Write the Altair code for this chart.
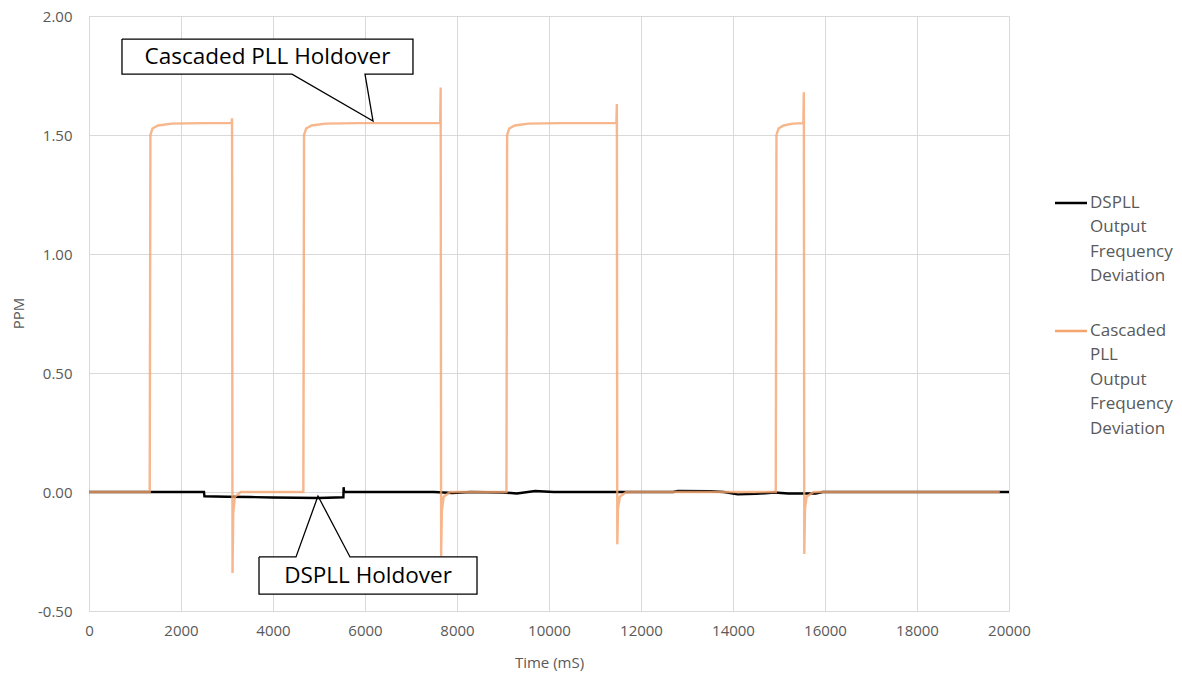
import altair as alt
import pandas as pd

# ---------------- data ----------------
dspll_t = [0, 2500, 2510, 3000, 3500, 4000, 4500, 5000, 5530, 5535, 5545, 6000, 7000, 7500,
           7900, 8300, 9000, 9300, 9700, 10100, 11000, 12000, 12700, 12800, 13500, 13800,
           14100, 14500, 14900, 15200, 15800, 15950, 20000]
dspll_v = [0.0, 0.0, -0.018, -0.02, -0.021, -0.023, -0.024, -0.025, -0.022, 0.02, 0.0, 0.0, 0.0, 0.0,
           -0.004, 0.0, -0.002, -0.006, 0.004, 0.0, 0.0, 0.0, 0.0, 0.004, 0.003, 0.0,
           -0.01, -0.008, -0.002, -0.006, -0.006, 0.0, 0.0]

casc_t = [0, 1320, 1335, 1380, 1500, 1800, 2500, 3100,
          3110, 3120, 3135, 3170, 3300, 4660,
          4675, 4720, 4840, 5140, 5840, 7635,
          7645, 7655, 7670, 7710, 7850, 9075,
          9090, 9135, 9255, 9555, 10255, 11465,
          11475, 11485, 11500, 11540, 11680, 14930,
          14945, 14990, 15100, 15300, 15530,
          15540, 15550, 15565, 15600, 15750, 19800]
casc_v = [0.0, 0.0, 1.50, 1.527, 1.54, 1.548, 1.55, 1.55,
          1.57, -0.34, -0.09, -0.02, 0.0, 0.0,
          1.50, 1.527, 1.54, 1.548, 1.55, 1.55,
          1.70, -0.27, -0.08, -0.02, 0.0, 0.0,
          1.50, 1.527, 1.54, 1.548, 1.55, 1.55,
          1.63, -0.22, -0.07, -0.02, 0.0, 0.0,
          1.50, 1.527, 1.54, 1.548, 1.55,
          1.68, -0.26, -0.07, -0.02, 0.0, 0.0]

x_ticks = list(range(0, 20001, 2000))
y_ticks = [-0.5, 0.0, 0.5, 1.0, 1.5, 2.0]

legend_labels = ["DSPLL\nOutput\nFrequency\nDeviation",
                 "Cascaded\nPLL\nOutput\nFrequency\nDeviation"]

# callouts (data coordinates)
callout_texts = ["Cascaded PLL Holdover", "DSPLL Holdover"]
callout_box_x = [[717, 7043], [3696, 8435]]
callout_box_y = [[1.756, 1.903], [-0.429, -0.273]]
callout1_t = [717, 7043, 7043, 6000, 6174, 4413, 717, 717]
callout1_v = [1.903, 1.903, 1.756, 1.756, 1.559, 1.756, 1.756, 1.903]
callout2_t = [3696, 4500, 4978, 5674, 8435, 8435, 3696, 3696]
callout2_v = [-0.273, -0.273, -0.017, -0.273, -0.273, -0.429, -0.429, -0.273]

BLACK = "#000000"
ORANGE = "#F5A46E"
FONT = "Open Sans"

# ---------------- frames ----------------
dspll_df = pd.DataFrame({"t": dspll_t, "v": dspll_v})
casc_df = pd.DataFrame({"t": casc_t, "v": casc_v})

xs = alt.Scale(domain=[0, 20000], nice=False, zero=False)
ys = alt.Scale(domain=[-0.5, 2.0], nice=False, zero=False)

x_axis = alt.Axis(values=x_ticks, title="Time (mS)", format="d", labelPadding=12,
                  titleY=51, titleBaseline="middle", labelFlush=False)
y_axis = alt.Axis(values=y_ticks, title="PPM", labelPadding=17,
                  labelExpr="replace(format(datum.value, '.2f'), '\u2212', '-')",
                  titleX=-71, titleY=297, titleBaseline="middle", titleAngle=-90)


def X(f):
    return alt.X(f, scale=xs, axis=x_axis, title="Time (mS)")


def Y(f):
    return alt.Y(f, scale=ys, axis=y_axis, title="PPM")


black_line = alt.Chart(dspll_df).mark_line(color=BLACK, strokeWidth=2.4).encode(
    x=X("t:Q"), y=Y("v:Q"), order="t:Q",
)

orange_line = alt.Chart(casc_df).mark_line(color=ORANGE, strokeWidth=2.4, opacity=0.8).encode(
    x=X("t:Q"), y=Y("v:Q"), order="t:Q",
)

# callout boxes
box_df = pd.DataFrame({
    "x1": [b[0] for b in callout_box_x], "x2": [b[1] for b in callout_box_x],
    "y1": [b[0] for b in callout_box_y], "y2": [b[1] for b in callout_box_y],
    "label": callout_texts,
    "cx": [(b[0] + b[1]) / 2 for b in callout_box_x],
    "cy": [(b[0] + b[1]) / 2 for b in callout_box_y],
})
box_fill = alt.Chart(box_df).mark_rect(fill="white").encode(
    x=X("x1:Q"), x2="x2:Q", y=Y("y1:Q"), y2="y2:Q",
)
outline_df = pd.concat([
    pd.DataFrame({"t": callout1_t, "v": callout1_v, "g": "a", "i": range(len(callout1_t))}),
    pd.DataFrame({"t": callout2_t, "v": callout2_v, "g": "b", "i": range(len(callout2_t))}),
])
outline = alt.Chart(outline_df).mark_line(color="black", strokeWidth=1.3).encode(
    x=X("t:Q"), y=Y("v:Q"), detail="g:N", order="i:Q",
)
box_text = alt.Chart(box_df).mark_text(font=FONT, fontSize=22.5, color="#000000",
                                       align="center", baseline="middle").encode(
    x=X("cx:Q"), y=Y("cy:Q"), text="label:N",
)

# legend (manual)
leg1_rule = alt.Chart(pd.DataFrame({"a": [0]})).mark_rule(color=BLACK, strokeWidth=2.5).encode(
    x=alt.value(966), x2=alt.value(998), y=alt.value(187))
leg2_rule = alt.Chart(pd.DataFrame({"a": [0]})).mark_rule(color=ORANGE, strokeWidth=2.5).encode(
    x=alt.value(966), x2=alt.value(998), y=alt.value(315))
leg1_text = alt.Chart(pd.DataFrame({"label": [legend_labels[0]]})).mark_text(
    font=FONT, fontSize=17, color="#595959", align="left", baseline="middle",
    lineBreak="\n", lineHeight=24.4).encode(
    x=alt.value(1001), y=alt.value(187), text="label:N")
leg2_text = alt.Chart(pd.DataFrame({"label": [legend_labels[1]]})).mark_text(
    font=FONT, fontSize=17, color="#595959", align="left", baseline="middle",
    lineBreak="\n", lineHeight=24.4).encode(
    x=alt.value(1001), y=alt.value(315), text="label:N")

chart = alt.layer(
    black_line, orange_line, box_fill, outline, box_text,
    leg1_rule, leg2_rule, leg1_text, leg2_text,
).properties(
    width=920, height=595,
    autosize=alt.AutoSizeParams(type="none"),
    padding={"left": 89, "top": 16, "right": 173, "bottom": 64},
    background="white",
).configure_view(stroke=None).configure_axis(
    labelFont=FONT, labelFontSize=15, labelColor="#595959",
    titleFont=FONT, titleFontSize=15, titleColor="#595959", titleFontWeight="normal",
    gridColor="#d9d9d9", gridWidth=1, domainColor="#d9d9d9", domainWidth=1,
    ticks=False,
)

chart.save("out.html", embed_options={"renderer": "svg", "actions": False})
